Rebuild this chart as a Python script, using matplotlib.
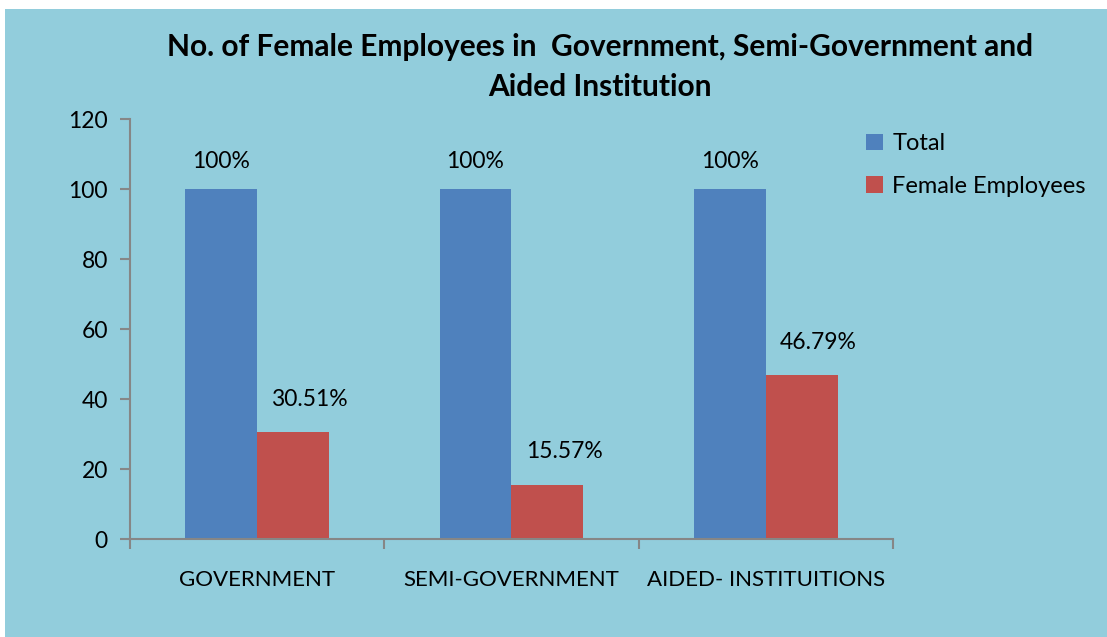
import matplotlib.pyplot as plt
from matplotlib.patches import Rectangle
import numpy as np

categories = ['GOVERNMENT', 'SEMI-GOVERNMENT', 'AIDED- INSTITUITIONS']
total = [100, 100, 100]
female = [30.51, 15.57, 46.79]
total_labels = ['100%', '100%', '100%']
female_labels = ['30.51%', '15.57%', '46.79%']

bg = '#92CDDC'
blue = '#4F81BD'
red = '#C0504D'
grey = '#868686'

plt.rcParams['font.family'] = ['Lato', 'DejaVu Sans']

fig = plt.figure(figsize=(11.07, 6.37), dpi=100, facecolor='white')
fig.patches.append(Rectangle((5 / 1107, 0), 1 - 5 / 1107, 1 - 9 / 637,
                             transform=fig.transFigure, facecolor=bg,
                             edgecolor='none', zorder=-10))

ax = fig.add_axes([130 / 1107, 98 / 637, 763 / 1107, 420 / 637])
ax.set_facecolor('none')

x = np.arange(len(categories))
w = 0.283
b1 = ax.bar(x - w / 2, total, w, color=blue, label='Total')
b2 = ax.bar(x + w / 2, female, w, color=red, label='Female Employees')

for rect, lab in zip(b1, total_labels):
    ax.annotate(lab, (rect.get_x() + rect.get_width() / 2, rect.get_height()),
                xytext=(0, 12), textcoords='offset points',
                ha='center', va='bottom', fontsize=16.5)
for rect, lab in zip(b2, female_labels):
    ax.annotate(lab, (rect.get_x() + rect.get_width() / 2, rect.get_height()),
                xytext=(12, 16), textcoords='offset points',
                ha='center', va='bottom', fontsize=16.5)

ax.set_xlim(-0.5, 2.5)
ax.set_ylim(0, 120)
ax.set_yticks(range(0, 121, 20))
ax.set_xticks([-0.5, 0.5, 1.5, 2.5])
ax.set_xticklabels([])
ax.set_xticks(x, minor=True)
ax.set_xticklabels(categories, minor=True, fontsize=16)
ax.tick_params(axis='x', which='minor', length=0, pad=22)
ax.tick_params(axis='x', which='major', length=7, width=1.5, color=grey)
ax.tick_params(axis='y', length=7, width=1.5, color=grey, labelsize=16.5, pad=9)

for s in ['top', 'right']:
    ax.spines[s].set_visible(False)
for s in ['left', 'bottom']:
    ax.spines[s].set_color(grey)
    ax.spines[s].set_linewidth(1.5)

fig.text(600 / 1107, 1 - 67 / 637,
         'No. of Female Employees in  Government, Semi-Government and\nAided Institution',
         ha='center', va='center', fontsize=21.5, fontweight='bold', linespacing=1.5)

fig.legend(handles=[b1, b2], loc='upper left', bbox_to_anchor=(857 / 1107, 1 - 124 / 637),
           frameon=False, fontsize=17, handlelength=0.7, handleheight=0.7,
           handletextpad=0.4, labelspacing=0.9, borderaxespad=0)

plt.savefig('out.png', dpi=100, facecolor=fig.get_facecolor())
